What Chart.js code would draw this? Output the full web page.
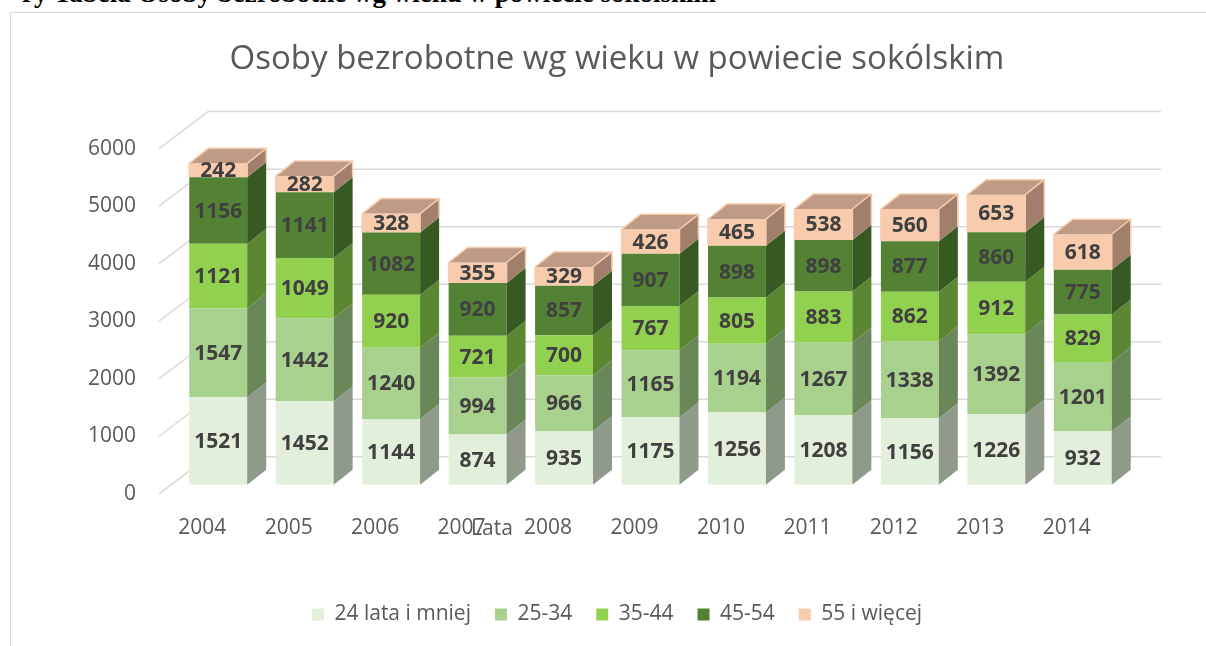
<!DOCTYPE html>
<html>
<head>
<meta charset="utf-8">
<script src="https://cdn.jsdelivr.net/npm/chart.js@4"></script>
<style>
  html, body { margin: 0; padding: 0; background: #fff; }
  body { width: 1206px; height: 646px; overflow: hidden; position: relative; }
  #cap { position: absolute; left: 22px; top: -22px; font: bold 27px "Liberation Serif", serif; color: #000; white-space: nowrap; }
  #box { position: absolute; left: 10px; top: 12px; width: 1212px; height: 640px; border-left: 1px solid #d9d9d9; border-top: 1px solid #d9d9d9; }
  #myChart { position: absolute; left: 0; top: 0; }
</style>
</head>
<body>
<div id="cap">ry Tabela Osoby bezrobotne wg wieku w powiecie sokólskim</div>
<div id="box"><canvas id="myChart" width="1212" height="640"></canvas></div>
<script>
const years = ["2004", "2005", "2006", "2007", "2008", "2009", "2010", "2011", "2012", "2013", "2014"];
const age24 = [1521, 1452, 1144, 874, 935, 1175, 1256, 1208, 1156, 1226, 932];
const age25 = [1547, 1442, 1240, 994, 966, 1165, 1194, 1267, 1338, 1392, 1201];
const age35 = [1121, 1049, 920, 721, 700, 767, 805, 883, 862, 912, 829];
const age45 = [1156, 1141, 1082, 920, 857, 907, 898, 898, 877, 860, 775];
const age55 = [242, 282, 328, 355, 329, 426, 465, 538, 560, 653, 618];
const seriesNames = ["24 lata i mniej", "25-34", "35-44", "45-54", "55 i więcej"];
const yTicks = [0, 1000, 2000, 3000, 4000, 5000, 6000];

const front = ["#e2efda", "#a9d18e", "#92d050", "#548235", "#f8cbad"];
const side = ["#8f9a8a", "#6a875a", "#5c8732", "#365a21", "#a0806c"];
const topFace = "#bf9b86";

const DX = 19, DY = -15;      // bar depth
const WX = 49, WY = -37;      // back wall offset from front plane
const FRONT_SHIFT = 9;        // front plane is below bar plane

// back wall grid + diagonals
const wallPlugin = {
  id: "wall",
  beforeDatasetsDraw(chart) {
    const { ctx, scales: { y }, chartArea } = chart;
    ctx.save();
    ctx.strokeStyle = "#d9d9d9";
    ctx.lineWidth = 1.5;
    const x0 = chartArea.left - 16;
    const right = chartArea.right + 35;
    yTicks.forEach(v => {
      const yf = y.getPixelForValue(v) + FRONT_SHIFT;
      ctx.beginPath();
      ctx.moveTo(x0, yf);
      ctx.lineTo(x0 + WX, yf + WY);
      ctx.lineTo(right, yf + WY);
      ctx.stroke();
    });
    ctx.restore();
  }
};

// side / top faces and value labels
const cubePlugin = {
  id: "cube",
  afterDatasetsDraw(chart) {
    const { ctx } = chart;
    const last = chart.data.datasets.length - 1;
    ctx.save();
    chart.data.datasets.forEach((ds, di) => {
      const meta = chart.getDatasetMeta(di);
      meta.data.forEach(bar => {
        const { x, y, base, width } = bar.getProps(["x", "y", "base", "width"], true);
        const r = x + width / 2, l = x - width / 2;
        ctx.fillStyle = side[di];
        ctx.beginPath();
        ctx.moveTo(r, y);
        ctx.lineTo(r + DX, y + DY);
        ctx.lineTo(r + DX, base + DY);
        ctx.lineTo(r, base);
        ctx.closePath();
        ctx.fill();
        if (di === last) {
          ctx.fillStyle = topFace;
          ctx.beginPath();
          ctx.moveTo(l, y);
          ctx.lineTo(l + DX, y + DY);
          ctx.lineTo(r + DX, y + DY);
          ctx.lineTo(r, y);
          ctx.closePath();
          ctx.fill();
          ctx.strokeStyle = "#f8cbad";
          ctx.lineWidth = 1.5;
          ctx.beginPath();
          ctx.moveTo(l, base);
          ctx.lineTo(l, y);
          ctx.lineTo(l + DX, y + DY);
          ctx.lineTo(r + DX, y + DY);
          ctx.lineTo(r + DX, base + DY);
          ctx.moveTo(r, base);
          ctx.lineTo(r, y);
          ctx.lineTo(r + DX, y + DY);
          ctx.stroke();
        }
      });
    });
    ctx.fillStyle = "#404040";
    ctx.font = "bold 21px 'Open Sans'";
    ctx.textAlign = "center";
    ctx.textBaseline = "middle";
    chart.data.datasets.forEach((ds, di) => {
      const meta = chart.getDatasetMeta(di);
      meta.data.forEach((bar, i) => {
        const { x, y, base } = bar.getProps(["x", "y", "base"], true);
        ctx.fillText(String(ds.data[i]), x, (y + base) / 2 + 1);
      });
    });
    // axis title
    ctx.fillStyle = "#595959";
    ctx.font = "21px 'Open Sans'";
    ctx.fillText("Lata", 481, 516);
    ctx.restore();
  }
};

const seriesData = [age24, age25, age35, age45, age55];

new Chart("myChart", {
  type: "bar",
  data: {
    labels: years,
    datasets: seriesData.map((d, i) => ({
      label: seriesNames[i],
      data: d,
      backgroundColor: front[i],
      borderWidth: 0,
      categoryPercentage: 0.67,
      barPercentage: 1
    }))
  },
  options: {
    responsive: false,
    animation: false,
    layout: { padding: { left: 0, right: 0, top: 0, bottom: 18 } },
    plugins: {
      title: {
        display: true,
        text: "Osoby bezrobotne wg wieku w powiecie sokólskim",
        color: "#595959",
        font: { family: "'Open Sans'", size: 33, weight: "normal" },
        padding: { top: 27, bottom: 60 }
      },
      legend: {
        position: "bottom",
        labels: {
          color: "#595959",
          font: { family: "'Open Sans'", size: 21 },
          boxWidth: 12,
          boxHeight: 12,
          padding: 24
        }
      },
      tooltip: { enabled: false }
    },
    scales: {
      x: {
        stacked: true,
        afterFit(scale) { scale.height += 8; },
        grid: { display: false, drawTicks: false },
        border: { display: false },
        ticks: { color: "#595959", font: { family: "'Open Sans'", size: 21 }, padding: 31, labelOffset: -16 }
      },
      y: {
        stacked: true,
        min: 0,
        max: 6000,
        afterFit(scale) { scale.width = 164; },
        afterBuildTicks(scale) { scale.ticks = yTicks.map(v => ({ value: v })); },
        grid: { display: false, drawTicks: false },
        border: { display: false },
        ticks: {
          color: "#595959",
          font: { family: "'Open Sans'", size: 21 },
          padding: 39,
          labelOffset: FRONT_SHIFT,
          callback: v => String(v)
        }
      },
      spacer: {
        position: "right",
        afterFit(scale) { scale.width = 97; },
        grid: { display: false, drawTicks: false },
        border: { display: false },
        ticks: { display: false }
      }
    }
  },
  plugins: [wallPlugin, cubePlugin]
});
</script>
</body>
</html>
